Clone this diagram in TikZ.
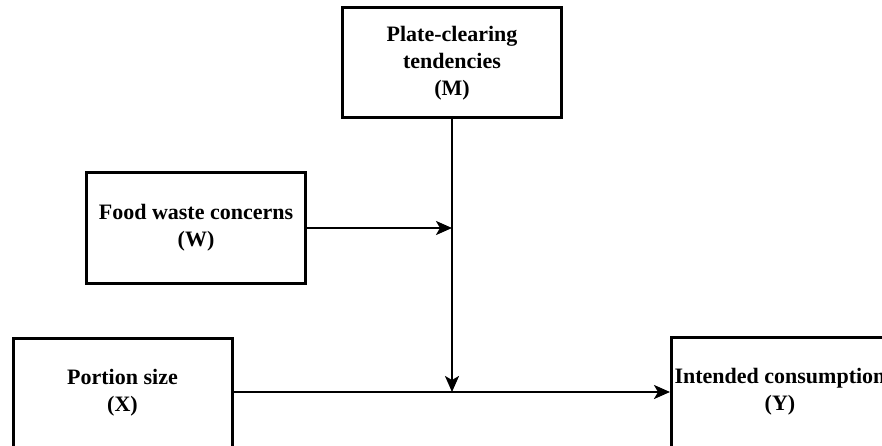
\documentclass[tikz,border=0pt]{standalone}
\usepackage{fontspec}
\setmainfont{Liberation Serif}
\usetikzlibrary{arrows.meta}
\begin{document}
\begin{tikzpicture}[x=1pt,y=-1pt,
  varbox/.style={draw=black, line width=3pt, minimum width=219pt, minimum height=110pt,
    inner sep=0pt, align=center, font=\bfseries\fontsize{22}{27}\selectfont, text=black},
  link/.style={line width=2.2pt, -{Stealth[length=16pt,width=14pt,inset=4pt]}}]
\useasboundingbox (0,0) rectangle (882,446);
\node[varbox] (M) at (452,63) {Plate-clearing\\tendencies\\(M)};
\node[varbox] (W) at (196,228) {Food waste concerns\\(W)};
\node[varbox] (X) at (122.5,393) {Portion size\\(X)};
\node[varbox, anchor=west] (Y) at (670,392) {\hspace*{0pt}};
\node[font=\bfseries\fontsize{22}{27}\selectfont, align=center, text=black] (Ylab) at (780,392) {Intended consumption\\(Y)};
\coordinate (J1) at (M.south |- W.east);
\coordinate (J2) at (M.south |- Y.west);
\draw[link] (W.east) -- (J1);
\draw[link] (M.south) -- (J2);
\draw[link] (X.east |- Y.west) -- (Y.west);
\end{tikzpicture}
\end{document}
